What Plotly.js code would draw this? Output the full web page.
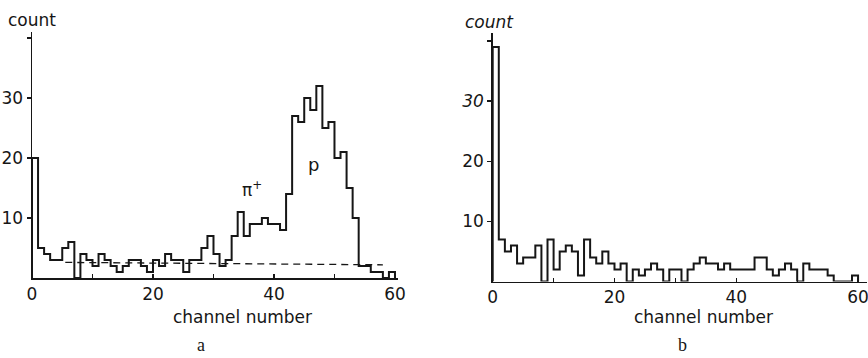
<!DOCTYPE html>
<html><head><meta charset="utf-8">
<script src="https://cdn.plot.ly/plotly-3.0.1.min.js"></script>
<style>html,body{margin:0;padding:0;background:#fff;} #chart{width:868px;height:358px;}</style>
</head><body><div id="chart"></div>
<script>
// Panel a
const channelsA = [0,1,2,3,4,5,6,7,8,9,10,11,12,13,14,15,16,17,18,19,20,21,22,23,24,25,26,27,28,29,30,31,32,33,34,35,36,37,38,39,40,41,42,43,44,45,46,47,48,49,50,51,52,53,54,55,56,57,58,59];
const countsA   = [20,5,4,3,3,5,6,0,4,3,2,4,3,2,1,2,3,3,2,1,3,2,4,3,3,1,3,3,5,7,4,2,3,7,11,7,9,9,10,9,9,8,14,27,26,30,28,32,25,26,20,21,15,10,2,2,1,1,0,1];
// dashed background estimate in panel a
const backgroundX = [5.5, 58];
const backgroundY = [2.6, 2.2];
// Panel b
const channelsB = [0,1,2,3,4,5,6,7,8,9,10,11,12,13,14,15,16,17,18,19,20,21,22,23,24,25,26,27,28,29,30,31,32,33,34,35,36,37,38,39,40,41,42,43,44,45,46,47,48,49,50,51,52,53,54,55,56,57,58,59];
const countsB   = [39,7,5,6,3,4,4,6,0,7,2,5,6,5,1,7,4,3,5,3,2,3,0,2,1,2,3,2,0,2,2,0,2,3,4,3,3,2,3,2,2,2,2,4,4,2,1,2,3,2,0,3,2,2,2,1,0,0,0,1];

const xTickVals = [0,20,40,60];
const xMinorVals = [10,30,50];
const yTickVals = [10,20,30];
const yMinorVals = [40];
const yTickTextA = ['10','20','30'];
const yTickTextB = ['10','20','<i>30</i>'];

function stepXY(ch, v){
  const x=[ch[0]], y=[0];
  for(let i=0;i<ch.length;i++){ x.push(ch[i]); y.push(v[i]); }
  x.push(ch[ch.length-1]+1); y.push(0);
  return {x, y};
}
const sA = stepXY(channelsA, countsA);
const sB = stepXY(channelsB, countsB);

const INK = '#161616';
const FONT = 'DejaVu Sans, sans-serif';
const W = 868, H = 358;
const px = (x) => x / W, py = (y) => 1 - y / H;

const traces = [
  {x: sA.x, y: sA.y, type:'scatter', mode:'lines', line:{shape:'hv', color:INK, width:2}, xaxis:'x', yaxis:'y', cliponaxis:false, hoverinfo:'skip'},
  {x: backgroundX, y: backgroundY, type:'scatter', mode:'lines', line:{color:INK, width:1.3, dash:'7px,5px'}, xaxis:'x', yaxis:'y', hoverinfo:'skip'},
  {x: sB.x, y: sB.y, type:'scatter', mode:'lines', line:{shape:'hv', color:INK, width:2}, xaxis:'x2', yaxis:'y2', cliponaxis:false, hoverinfo:'skip'}
];

const axCommon = {showgrid:false, zeroline:false, showline:true, linecolor:INK, linewidth:1.5,
  tickfont:{family:FONT, size:17, color:INK}, tickcolor:INK, tickwidth:1.2, fixedrange:true,
  ticklabeloverflow:'allow'};
const xMinor = {tickmode:'array', tickvals:xMinorVals, ticks:'inside', ticklen:4, tickcolor:INK, tickwidth:1.2, showgrid:false};
const yMinor = {tickmode:'array', tickvals:yMinorVals, ticks:'outside', ticklen:4, tickcolor:INK, tickwidth:1.2, showgrid:false};

const layout = {
  width: W, height: H, margin:{l:0,r:0,t:0,b:0},
  paper_bgcolor:'#fff', plot_bgcolor:'rgba(0,0,0,0)', showlegend:false,
  xaxis: Object.assign({}, axCommon, {domain:[px(32), px(398)], range:[0,60.5], anchor:'y',
    tickmode:'array', tickvals:xTickVals, ticks:'inside', ticklen:4, minor:xMinor}),
  yaxis: Object.assign({}, axCommon, {domain:[py(278), py(32)], range:[0,41], anchor:'x',
    tickmode:'array', tickvals:yTickVals, ticktext:yTickTextA, ticks:'outside', ticklen:4, minor:yMinor}),
  xaxis2: Object.assign({}, axCommon, {domain:[px(492.7), px(866.6)], range:[0,61.4], anchor:'y2',
    tickmode:'array', tickvals:xTickVals, ticks:'inside', ticklen:4, minor:xMinor}),
  yaxis2: Object.assign({}, axCommon, {domain:[py(281.5), py(32.5)], range:[0,41.4], anchor:'x2',
    tickmode:'array', tickvals:yTickVals, ticktext:yTickTextB, ticks:'outside', ticklen:4, minor:yMinor}),
  annotations: [
    {text:'count', xref:'paper', yref:'paper', x:px(32), y:py(20), xanchor:'center', yanchor:'middle', showarrow:false, font:{family:FONT, size:17, color:INK}},
    {text:'<i>count</i>', xref:'paper', yref:'paper', x:px(489), y:py(22), xanchor:'center', yanchor:'middle', showarrow:false, font:{family:FONT, size:17, color:INK}},
    {text:'channel number', xref:'paper', yref:'paper', x:px(242), y:py(317), xanchor:'center', yanchor:'middle', showarrow:false, font:{family:FONT, size:17, color:INK}},
    {text:'channel number', xref:'paper', yref:'paper', x:px(703), y:py(317), xanchor:'center', yanchor:'middle', showarrow:false, font:{family:FONT, size:17, color:INK}},
    {text:'a', xref:'paper', yref:'paper', x:px(201), y:py(345), xanchor:'center', yanchor:'middle', showarrow:false, font:{family:'Liberation Serif, serif', size:18, color:INK}},
    {text:'b', xref:'paper', yref:'paper', x:px(682), y:py(345), xanchor:'center', yanchor:'middle', showarrow:false, font:{family:'Liberation Serif, serif', size:18, color:INK}},
    {text:'π<sup>+</sup>', xref:'paper', yref:'paper', x:px(252), y:py(189), xanchor:'center', yanchor:'middle', showarrow:false, font:{family:FONT, size:17, color:INK}},
    {text:'p', xref:'paper', yref:'paper', x:px(313), y:py(164), xanchor:'center', yanchor:'middle', showarrow:false, font:{family:FONT, size:18, color:INK}}
  ]
};

Plotly.newPlot('chart', traces, layout, {staticPlot:true, displayModeBar:false});
</script>
</body></html>
